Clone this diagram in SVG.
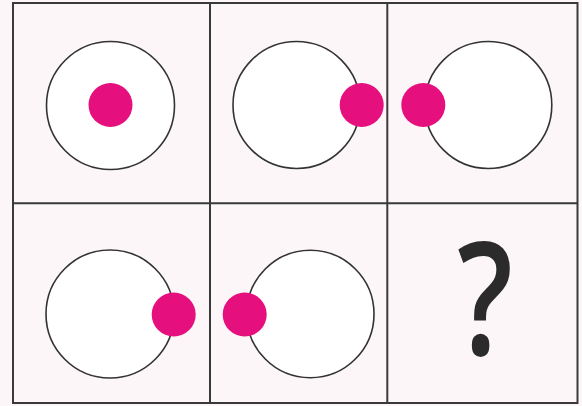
<svg xmlns="http://www.w3.org/2000/svg" width="582" height="406" viewBox="0 0 582 406">
<style>
.ring{fill:#fff;stroke:#333;stroke-width:1.6}
.dot{fill:#E60F7E}
.grid{fill:none;stroke:#3a3a3a;stroke-width:2}
.q{font-family:"Open Sans","Liberation Sans",sans-serif;font-size:157px;font-weight:600;fill:#2b2b2b;text-anchor:middle}
</style>
<rect x="0" y="0" width="582" height="406" fill="#FCF6F8"/>
<g id="cell-1-1"><circle class="ring" cx="110.5" cy="105.5" r="64"/><circle class="dot" cx="110.5" cy="105" r="22"/></g>
<g id="cell-1-2"><circle class="ring" cx="296.5" cy="105" r="63.5"/><circle class="dot" cx="361.7" cy="105" r="22"/></g>
<g id="cell-1-3"><circle class="ring" cx="488.3" cy="105" r="63.5"/><circle class="dot" cx="423.3" cy="105" r="22"/></g>
<g id="cell-2-1"><circle class="ring" cx="110" cy="314" r="64"/><circle class="dot" cx="173.7" cy="314.5" r="22"/></g>
<g id="cell-2-2"><circle class="ring" cx="310.3" cy="314" r="63.7"/><circle class="dot" cx="244.7" cy="314.5" r="22"/></g>
<g id="cell-2-3"><text class="q" transform="translate(485,355) scale(0.78,1)" x="0" y="0">?</text></g>
<g id="grid">
<rect class="grid" x="13" y="3" width="564.5" height="400"/>
<line class="grid" x1="210" y1="3" x2="210" y2="403"/>
<line class="grid" x1="387.3" y1="3" x2="387.3" y2="403"/>
<line class="grid" x1="13" y1="203.3" x2="577.5" y2="203.3"/>
</g>
</svg>
